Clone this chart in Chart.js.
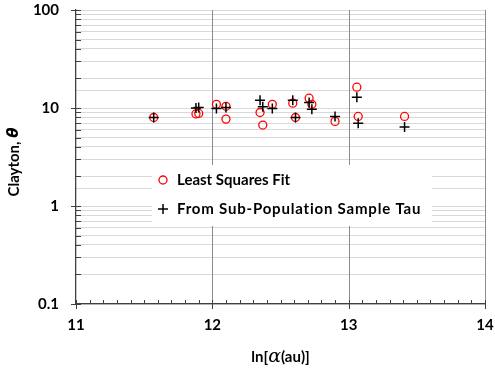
<!DOCTYPE html>
<html>
<head>
<meta charset="utf-8">
<script src="https://cdn.jsdelivr.net/npm/chart.js@4"></script>
<style>
    body { margin: 0; background: #fff; }
    #wrap { width: 495px; height: 371px; position: relative; }
</style>
</head>
<body>
<div id="wrap"><canvas id="grafico"></canvas></div>
<script>
// dados
const lnAlphaLS = [11.57, 11.88, 11.90, 12.03, 12.10, 12.10, 12.35, 12.37, 12.44, 12.59, 12.61, 12.71, 12.73, 12.90, 13.06, 13.07, 13.41];
const thetaLS = [8.0, 8.7, 8.8, 10.9, 10.4, 7.7, 9.0, 6.7, 10.9, 11.2, 8.0, 12.6, 10.9, 7.3, 16.3, 8.2, 8.2];
const lnAlphaTau = [11.57, 11.88, 11.90, 12.03, 12.10, 12.35, 12.37, 12.44, 12.59, 12.61, 12.71, 12.73, 12.90, 13.06, 13.07, 13.41];
const thetaTau = [8.0, 10.0, 10.1, 9.9, 10.1, 12.0, 10.3, 9.9, 12.0, 8.0, 11.4, 9.7, 8.2, 12.9, 7.0, 6.4];
const xTicks = [11, 12, 13, 14];
const yTicks = [0.1, 1, 10, 100];
const seriesNames = ["Least Squares Fit", "From Sub-Population Sample Tau"];

const FONT = "Lato";
const COR_GRADE_X = "#8c8c8c";

// junta x e y em pontos
function pontos(xs, ys) {
    return xs.map((x, i) => ({ x: x, y: ys[i] }));
}

// desenha partes de texto com fontes diferentes, centrado em (cx, cy)
function textoMisto(ctx, partes, cx, cy) {
    let total = 0;
    partes.forEach(p => { ctx.font = p.font; total += ctx.measureText(p.text).width; });
    let x = cx - total / 2;
    ctx.textBaseline = "middle";
    ctx.textAlign = "left";
    partes.forEach(p => {
        ctx.font = p.font;
        ctx.fillText(p.text, x, cy + (p.dy || 0));
        x += ctx.measureText(p.text).width;
    });
}

// marcas dos eixos, titulos e legenda
const extras = {
    id: "extras",
    beforeDatasetsDraw(chart) {
        // linhas verticais por cima da grade horizontal
        const ctx = chart.ctx;
        const area = chart.chartArea;
        const xs = chart.scales.x;
        ctx.save();
        ctx.strokeStyle = COR_GRADE_X;
        ctx.lineWidth = 1;
        ctx.beginPath();
        xTicks.slice(1).forEach(v => {
            const px = Math.round(xs.getPixelForValue(v)) + 0.5;
            ctx.moveTo(px, area.top); ctx.lineTo(px, area.bottom);
        });
        ctx.stroke();
        ctx.restore();
    },
    afterDatasetsDraw(chart) {
        const ctx = chart.ctx;
        const area = chart.chartArea;
        const xs = chart.scales.x;
        const ys = chart.scales.y;
        ctx.save();

        // legenda (caixa branca dentro do gráfico)
        ctx.fillStyle = "#fff";
        ctx.fillRect(152, 165, 280, 61);
        ctx.strokeStyle = "red";
        ctx.lineWidth = 1.3;
        ctx.beginPath();
        ctx.arc(163, 180, 4, 0, Math.PI * 2);
        ctx.stroke();
        ctx.strokeStyle = "#000";
        ctx.lineWidth = 1.5;
        ctx.beginPath();
        ctx.moveTo(158, 209); ctx.lineTo(168, 209);
        ctx.moveTo(163, 204); ctx.lineTo(163, 214);
        ctx.stroke();
        ctx.fillStyle = "#000";
        ctx.font = "bold 15px " + FONT;
        ctx.textBaseline = "middle";
        ctx.textAlign = "left";
        ctx.fillText(seriesNames[0], 177, 180);
        ctx.letterSpacing = "0.8px";
        ctx.fillText(seriesNames[1], 177, 209);
        ctx.letterSpacing = "0px";

        // marcas do eixo x
        ctx.strokeStyle = "#404040";
        ctx.lineWidth = 1;
        ctx.beginPath();
        for (let v = 110; v <= 140; v++) {
            const px = Math.round(xs.getPixelForValue(v / 10)) + 0.5;
            if (v % 10 === 0) {
                ctx.moveTo(px, area.bottom - 4); ctx.lineTo(px, area.bottom + 5);
            } else {
                ctx.moveTo(px, area.bottom - 4); ctx.lineTo(px, area.bottom);
            }
        }
        // marcas do eixo y
        for (let e = -1; e < 3; e++) {
            for (let m = 1; m <= 10; m++) {
                const v = m * Math.pow(10, e);
                const py = Math.round(ys.getPixelForValue(v)) + 0.5;
                if (m === 1 || m === 10) {
                    ctx.moveTo(area.left - 5, py); ctx.lineTo(area.left + 5, py);
                } else {
                    ctx.moveTo(area.left, py); ctx.lineTo(area.left + 5, py);
                }
            }
        }
        ctx.stroke();

        // titulos dos eixos
        ctx.fillStyle = "#000";
        textoMisto(ctx, [
            { text: "ln[", font: "bold 15px " + FONT },
            { text: "α", font: "italic 19px 'DejaVu Serif'" },
            { text: "(au)]", font: "bold 15px " + FONT }
        ], (area.left + area.right) / 2, 357);

        ctx.translate(14, 162);
        ctx.rotate(-Math.PI / 2);
        textoMisto(ctx, [
            { text: "Clayton, ", font: "bold 15px " + FONT },
            { text: "θ", font: "bold italic 15px 'DejaVu Sans'" }
        ], 0, 0);
        ctx.restore();
    }
};

document.addEventListener("DOMContentLoaded", () => {
    const ctx = document.getElementById("grafico").getContext("2d");
    new Chart(ctx, {
        type: "scatter",
        data: {
            datasets: [{
                label: seriesNames[0],
                data: pontos(lnAlphaLS, thetaLS),
                pointStyle: "circle",
                pointRadius: 4,
                borderColor: "red",
                backgroundColor: "rgba(0,0,0,0)",
                borderWidth: 1.3,
                order: 2
            }, {
                label: seriesNames[1],
                data: pontos(lnAlphaTau, thetaTau),
                pointStyle: "cross",
                pointRadius: 5,
                borderColor: "#000",
                borderWidth: 1.5,
                order: 1
            }]
        },
        options: {
            responsive: true,
            maintainAspectRatio: false,
            animation: false,
            events: [],
            layout: { padding: { top: 10, right: 10, left: 0, bottom: 0 } },
            plugins: {
                legend: { display: false },
                tooltip: { enabled: false }
            },
            scales: {
                x: {
                    type: "linear",
                    min: 11,
                    max: 14,
                    afterFit: (scale) => {
                        scale.height = 67;
                        scale.paddingLeft = 0;
                        scale.paddingRight = 0;
                    },
                    afterBuildTicks: (scale) => { scale.ticks = xTicks.map(v => ({ value: v })); },
                    ticks: {
                        padding: 12,
                        maxRotation: 0,
                        color: "#000",
                        font: { family: FONT, size: 15, weight: "bold" }
                    },
                    grid: {
                        drawTicks: false,
                        color: "rgba(0,0,0,0)"
                    },
                    border: { color: "#404040", width: 1.3 }
                },
                y: {
                    type: "logarithmic",
                    min: 0.1,
                    max: 100,
                    afterFit: (scale) => {
                        scale.width = 76;
                        scale.paddingTop = 0;
                        scale.paddingBottom = 0;
                    },
                    ticks: {
                        padding: 17,
                        autoSkip: false,
                        color: "#000",
                        font: { family: FONT, size: 15, weight: "bold" },
                        callback: (v) => yTicks.some(t => Math.abs(t - v) < 1e-9) ? String(v) : ""
                    },
                    grid: {
                        drawTicks: false,
                        color: "#d9d9d9",
                        lineWidth: 1
                    },
                    border: { color: "#404040", width: 1.3 }
                }
            }
        },
        plugins: [extras]
    });
});
</script>
</body>
</html>
